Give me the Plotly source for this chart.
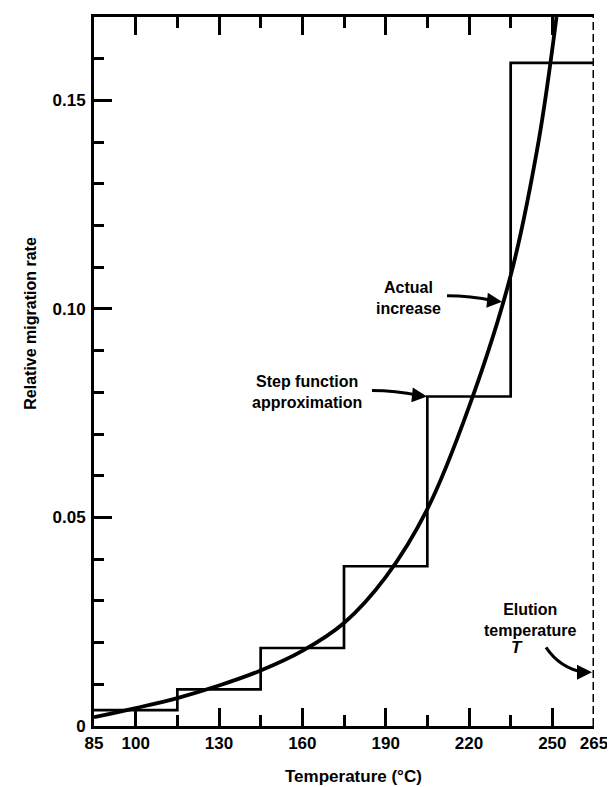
import plotly.graph_objects as go

# ---- data ----
step_edges = [85, 115, 145, 175, 205, 235, 265]          # temperature steps (°C)
step_levels = [0.0038, 0.0088, 0.0187, 0.0383, 0.0790, 0.1590]

curve_temp = [85, 100, 115, 130, 145, 160, 175, 190, 205, 220, 235, 245, 251.5]
curve_rate = [0.0021, 0.0043, 0.0067, 0.0097, 0.0133, 0.0180, 0.0247, 0.0357,
              0.0520, 0.0765, 0.1080, 0.1400, 0.1700]

elution_temp = 265
x_tickvals = [85, 100, 130, 160, 190, 220, 250, 265]
x_ticktext = ["85", "100", "130", "160", "190", "220", "250", "265"]
y_tickvals = [0, 0.05, 0.10, 0.15]
y_ticktext = ["0", "0.05", "0.10", "0.15"]

X_RANGE = [85, 265]
Y_RANGE = [0, 0.17]

# step function as polyline
sx, sy = [], []
for i, lvl in enumerate(step_levels):
    sx += [step_edges[i], step_edges[i + 1]]
    sy += [lvl, lvl]

FONT = "Liberation Sans"
BLACK = "#000000"

# page geometry (pixels); the html body adds an 8px margin
OFF = 8
PAGE_W, PAGE_H = 615, 787
PL, PR, PT, PB = 94, 594, 14, 726       # plot area edges on the page
W, H = PAGE_W - OFF, PAGE_H - OFF
L = PL - OFF
T = PT - OFF
R = W - (PR - OFF)
B = H - (PB - OFF)
pw, ph = PR - PL, PB - PT


def px2x(px):
    return X_RANGE[0] + (px - PL) / pw * (X_RANGE[1] - X_RANGE[0])


def py2y(py):
    return Y_RANGE[0] + (PB - py) / ph * (Y_RANGE[1] - Y_RANGE[0])


def px2paper(px):
    return (px - PL) / pw


def py2paper(py):
    return (PB - py) / ph


fig = go.Figure()
fig.add_trace(go.Scatter(x=sx, y=sy, mode="lines",
                         line=dict(color=BLACK, width=2.7), hoverinfo="skip"))
fig.add_trace(go.Scatter(x=curve_temp, y=curve_rate, mode="lines",
                         line=dict(color=BLACK, width=3.8, shape="spline", smoothing=1.0),
                         hoverinfo="skip"))
fig.add_trace(go.Scatter(x=[elution_temp, elution_temp], y=Y_RANGE, mode="lines",
                         line=dict(color=BLACK, width=3, dash="8px,4px"), hoverinfo="skip"))

tfont = dict(family=FONT, size=17, color=BLACK, weight=700)
axis_common = dict(showgrid=False, zeroline=False, showline=True, linecolor=BLACK,
                   linewidth=3, ticks="inside", tickcolor=BLACK, tickwidth=2.5,
                   tickfont=tfont)

fig.update_xaxes(range=X_RANGE, tickvals=x_tickvals, ticktext=x_ticktext,
                 ticklen=18, mirror="allticks",
                 minor=dict(ticks="inside", tickvals=[115, 145, 175, 205, 235],
                            ticklen=11, tickwidth=2.5, tickcolor=BLACK),
                 **axis_common)
fig.update_yaxes(range=Y_RANGE, tickvals=y_tickvals, ticktext=y_ticktext,
                 ticklen=18, mirror=False, ticklabelstandoff=2,
                 minor=dict(ticks="inside", dtick=0.01, ticklen=10, tickwidth=2.5,
                            tickcolor=BLACK),
                 **axis_common)

afont = dict(family=FONT, size=16, color=BLACK, weight=700)
C = dict(xanchor="center", yanchor="middle", showarrow=False)
annotations = [
    # axis titles
    dict(xref="paper", yref="paper", x=px2paper(353), y=py2paper(777),
         text="Temperature (°C)", font=dict(family=FONT, size=17, color=BLACK, weight=700),
         **C),
    dict(xref="paper", yref="paper", x=px2paper(31), y=py2paper(322),
         text="Relative migration rate", textangle=-90,
         font=dict(family=FONT, size=16, color=BLACK, weight=700), **C),
    # labels
    dict(x=px2x(408), y=py2y(296), text="Actual<br>increase", font=afont,
         align="center", **C),
    dict(x=px2x(307), y=py2y(391), text="Step function<br>approximation", font=afont,
         align="center", **C),
    dict(x=px2x(530), y=py2y(620), text="Elution<br>temperature", font=afont,
         align="center", **C),
    dict(x=px2x(517), y=py2y(647), text="<i>T</i>",
         font=dict(family=FONT, size=17, color=BLACK, weight=700), **C),
    # arrow heads
    dict(x=px2x(502), y=py2y(300), ax=-10, ay=-1, text="", showarrow=True,
         arrowhead=2, arrowsize=1.2, arrowwidth=2.5, arrowcolor=BLACK),
    dict(x=px2x(427), y=py2y(395), ax=-10, ay=-1, text="", showarrow=True,
         arrowhead=2, arrowsize=1.2, arrowwidth=2.5, arrowcolor=BLACK),
    dict(x=px2x(592), y=py2y(672), ax=-10, ay=0, text="", showarrow=True,
         arrowhead=2, arrowsize=1.2, arrowwidth=2.5, arrowcolor=BLACK),
]


def qpath(p0, c, p1):
    return (f"M {px2x(p0[0])},{py2y(p0[1])} Q {px2x(c[0])},{py2y(c[1])} "
            f"{px2x(p1[0])},{py2y(p1[1])}")


shapes = [
    dict(type="path", path=qpath((447, 294), (470, 294), (494, 299)),
         line=dict(color=BLACK, width=3)),
    dict(type="path", path=qpath((372, 389), (395, 389), (419, 394)),
         line=dict(color=BLACK, width=3)),
    dict(type="path", path=qpath((546, 647), (560, 668), (584, 672)),
         line=dict(color=BLACK, width=3)),
]

fig.update_layout(width=W, height=H, margin=dict(l=L, r=R, t=T, b=B),
                  plot_bgcolor="white", paper_bgcolor="white", showlegend=False,
                  annotations=annotations, shapes=shapes)

fig.write_html("out.html")
